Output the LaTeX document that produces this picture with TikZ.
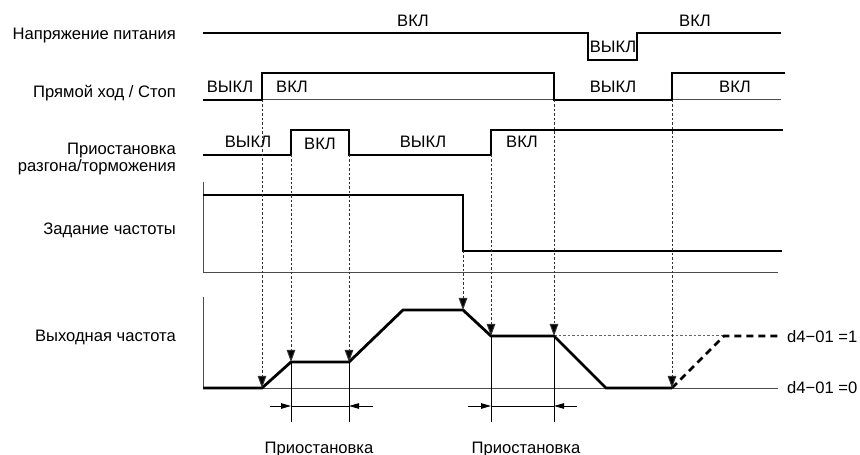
\documentclass[tikz,border=0pt]{standalone}
\usepackage{fontspec}
\setmainfont{Liberation Sans}
\usetikzlibrary{arrows.meta}
\begin{document}
\begin{tikzpicture}[x=1bp,y=-1bp,
  sig/.style={line width=2.8bp, line join=miter, line cap=butt},
  sigdash/.style={sig, dash pattern=on 7bp off 5bp},
  thinln/.style={line width=1bp, black!70},
  dotln/.style={line width=1bp, dash pattern=on 2.5bp off 2bp, black!80},
  trig/.style={dotln, -{Triangle[length=12bp,width=8.5bp,fill=black]}},
  dimarr/.style={line width=1bp, -{Triangle[length=10bp,width=5.5bp]}},
  lbl/.style={font=\fontsize{16.6bp}{19bp}\selectfont, inner sep=0pt},
]
\useasboundingbox (0,0) rectangle (860,455);

% left labels
\node[lbl, anchor=base east] (l1) at (176,40) {Напряжение питания};
\node[lbl, anchor=base east] (l2) at (176,98) {Прямой ход / Стоп};
\node[lbl, anchor=base east] (l3a) at (176,155) {Приостановка};
\node[lbl, anchor=base east] (l3b) at (176,172) {разгона/торможения};
\node[lbl, anchor=base east] (l4) at (176,235) {Задание частоты};
\node[lbl, anchor=base east] (l5) at (176,342) {Выходная частота};

% signal 1: power
\draw[sig] (203,33)--(588,33)--(588,60)--(637,60)--(637,33)--(781,33);
\node[lbl, anchor=base] (s1a) at (413,27) {ВКЛ};
\node[lbl, anchor=base] (s1b) at (613,53) {ВЫКЛ};
\node[lbl, anchor=base] (s1c) at (695,27) {ВКЛ};

% signal 2: run/stop
\draw[thinln] (262,100)--(554,100);
\draw[thinln] (672,100)--(781,100);
\draw[sig] (203,100)--(262,100)--(262,73)--(554,73)--(554,100)--(672,100)--(672,73)--(785,73);
\node[lbl, anchor=base] (s2a) at (230,93) {ВЫКЛ};
\node[lbl, anchor=base] (s2b) at (292,93) {ВКЛ};
\node[lbl, anchor=base] (s2c) at (613,93) {ВЫКЛ};
\node[lbl, anchor=base] (s2d) at (735,93) {ВКЛ};

% signal 3: accel/decel hold
\draw[sig] (203,155)--(291,155)--(291,130)--(349,130)--(349,155)--(491,155)--(491,130)--(783,130);
\node[lbl, anchor=base] (s3a) at (248,148) {ВЫКЛ};
\node[lbl, anchor=base] (s3b) at (320,150) {ВКЛ};
\node[lbl, anchor=base] (s3c) at (423,148) {ВЫКЛ};
\node[lbl, anchor=base] (s3d) at (522,148) {ВКЛ};

% signal 4: frequency reference
\draw[thinln] (203,182)--(203,273)--(778,273);
\draw[sig] (203,195)--(463,195)--(463,251)--(782,251);

% signal 5: output frequency
\draw[thinln] (203,297)--(203,388)--(778,388);
\draw[dotln, black!60] (554,336)--(724,336);
\draw[sigdash] (672,388)--(724,336)--(782,336);
\draw[sig] (203,388)--(262,388)--(291,362)--(349,362)--(403,310)--(463,310)--(491,336)--(554,336)--(606,388)--(672,388);
\node[lbl, anchor=west] (d1) at (787,337) {d4−01 =1};
\node[lbl, anchor=west] (d0) at (787,388) {d4−01 =0};

% trigger arrows
\coordinate (a1) at (262,100); \coordinate (b1) at (262,388);
\coordinate (a2) at (291,155); \coordinate (b2) at (291,362);
\coordinate (a3) at (349,155); \coordinate (b3) at (349,362);
\coordinate (a4) at (463,251); \coordinate (b4) at (463,310);
\coordinate (a5) at (491,155); \coordinate (b5) at (491,336);
\coordinate (a6) at (554,100); \coordinate (b6) at (554,336);
\coordinate (a7) at (672,100); \coordinate (b7) at (672,388);
\foreach \i in {1,...,7} {\draw[trig] (a\i) -- (b\i);}

% dimension lines
\draw[thinln, black] (291,362)--(291,422);
\draw[thinln, black] (349,362)--(349,422);
\draw[thinln, black] (491,336)--(491,422);
\draw[thinln, black] (554,336)--(554,422);
\draw[line width=1bp] (291,406)--(349,406);
\draw[line width=1bp] (491,406)--(554,406);
\coordinate (p1) at (270,406); \coordinate (p2) at (373,406);
\coordinate (p3) at (468,406); \coordinate (p4) at (577,406);
\draw[dimarr] (p1)--(291,406);
\draw[dimarr] (p2)--(349,406);
\draw[dimarr] (p3)--(491,406);
\draw[dimarr] (p4)--(554,406);
\node[lbl, anchor=base] (h1) at (319,453) {Приостановка};
\node[lbl, anchor=base] (h2) at (526,453) {Приостановка};
\end{tikzpicture}
\end{document}
